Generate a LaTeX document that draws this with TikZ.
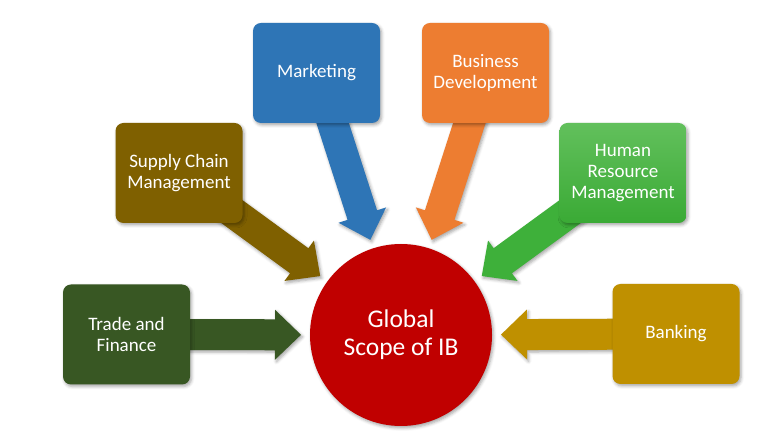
\documentclass[tikz,border=0pt]{standalone}
\usepackage{fontspec}
\setmainfont{Carlito}
\usetikzlibrary{calc,shadows.blur}
\pgfdeclarelayer{background}
\pgfsetlayers{background,main}
\definecolor{cTrade}{HTML}{385723}
\definecolor{cSupply}{HTML}{7F6000}
\definecolor{cMarket}{HTML}{2E75B6}
\definecolor{cBusiness}{HTML}{ED7D31}
\definecolor{cHRtop}{HTML}{62C05C}
\definecolor{cHRbot}{HTML}{3AAA35}
\definecolor{cHRarrow}{HTML}{3EB03A}
\definecolor{cBank}{HTML}{BF9000}
\definecolor{cCircle}{HTML}{C00000}
\tikzset{
  softshadow/.style={blur shadow={shadow xshift=1.5pt, shadow yshift=-2pt, shadow blur radius=3pt, shadow opacity=35}},
  box/.style={rectangle, rounded corners=8pt, minimum width=127pt, minimum height=100pt,
    inner sep=0pt, text=white, align=center, font=\fontsize{19}{21}\selectfont, softshadow},
  hub/.style={circle, minimum size=182pt, inner sep=0pt, fill=cCircle, text=white,
    align=center, font=\fontsize{25.5}{28}\selectfont, softshadow},
}
% fat arrow from a box centre towards the hub
\newcommand\fatarr[2]{%
  \coordinate (s) at (#1.center);
  \coordinate (t) at ($(g.center)!100pt!(#1.center)$);
  \coordinate (h) at ($(t)!26pt!(s)$);
  \fill[#2, softshadow] ($(s)!15.5pt!90:(t)$) -- ($(h)!15.5pt!90:(t)$) -- ($(h)!25pt!90:(t)$)
    -- (t) -- ($(h)!25pt!-90:(t)$) -- ($(h)!15.5pt!-90:(t)$) -- ($(s)!15.5pt!-90:(t)$) -- cycle;
}
\begin{document}
\begin{tikzpicture}[x=1pt, y=1pt]
\useasboundingbox (0,0) rectangle (784,436);
\node[hub] (g) at (401,101) {Global\\Scope of IB};
\node[box, fill=cTrade] (trade) at (126.5,101.5) {Trade and\\Finance};
\node[box, fill=cSupply] (supply) at (179,263) {Supply Chain\\Management};
\node[box, fill=cMarket] (market) at (316.5,363) {Marketing};
\node[box, fill=cBusiness] (business) at (485.5,363) {Business\\Development};
\node[box, top color=cHRtop, bottom color=cHRbot] (hr) at (623,263) {Human\\Resource\\Management};
\node[box, fill=cBank] (bank) at (676,102) {Banking};
\begin{pgfonlayer}{background}
\fatarr{trade}{cTrade}
\fatarr{supply}{cSupply}
\fatarr{market}{cMarket}
\fatarr{business}{cBusiness}
\fatarr{hr}{cHRarrow}
\fatarr{bank}{cBank}
\end{pgfonlayer}
\end{tikzpicture}
\end{document}
